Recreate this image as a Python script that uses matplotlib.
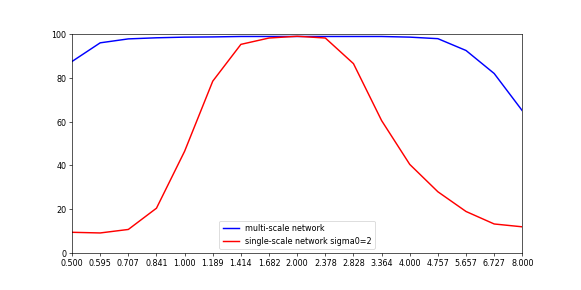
import matplotlib
matplotlib.use("Agg")
import matplotlib.pyplot as plt

scales = ["0.500", "0.595", "0.707", "0.841", "1.000", "1.189", "1.414", "1.682", "2.000",
          "2.378", "2.828", "3.364", "4.000", "4.757", "5.657", "6.727", "8.000"]
multi_scale = [87.5, 96.0, 97.8, 98.3, 98.6, 98.7, 98.9, 98.9, 98.9, 98.9, 98.9, 98.9,
               98.6, 97.9, 92.5, 82.0, 65.0]
single_scale = [9.5, 9.2, 10.8, 20.5, 46.5, 78.5, 95.3, 98.2, 99.0, 98.2, 86.5, 60.5,
                40.5, 28.0, 19.0, 13.3, 12.0]

fig, ax = plt.subplots(figsize=(10, 5), dpi=58.1)
fig.subplots_adjust(left=0.124, right=0.899, top=0.881, bottom=0.127)
x = list(range(len(scales)))
ax.plot(x, multi_scale, color="blue", lw=1.8, label="multi-scale network")
ax.plot(x, single_scale, color="red", lw=1.8, label="single-scale network sigma0=2")
ax.set_xticks(x)
ax.set_xticklabels(scales)
ax.set_xlim(0, len(scales) - 1)
ax.set_ylim(0, 100)
ax.legend(loc="lower center")
fig.savefig("out.png", dpi=58.1)
